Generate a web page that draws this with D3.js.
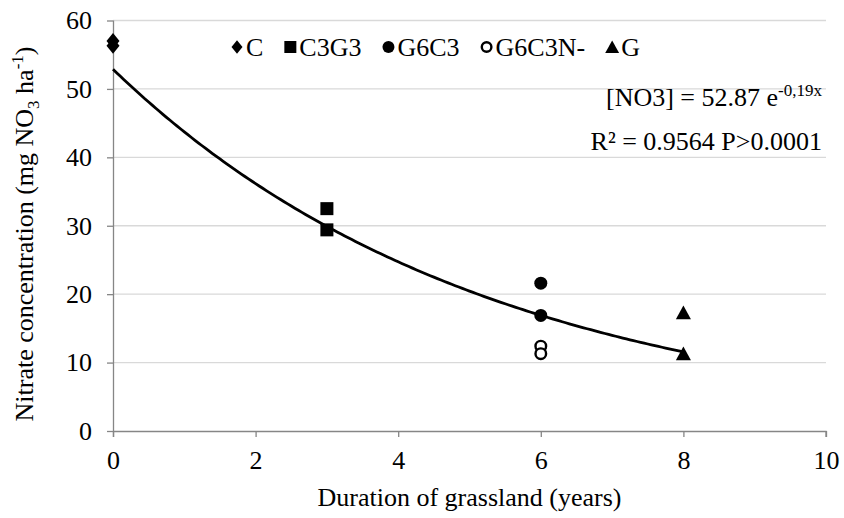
<!DOCTYPE html>
<html>
<head>
<meta charset="utf-8">
<script src="https://cdn.jsdelivr.net/npm/d3@7"></script>
<style>
  html, body { margin: 0; padding: 0; background: #fff; }
  svg text { font-family: "Liberation Serif", "Times New Roman", serif; fill: #000; }
</style>
</head>
<body>
<svg id="chart" width="844" height="518"></svg>
<script>
// Treatments and their measured nitrate concentrations
const seriesNames = ["C", "C3G3", "G6C3", "G6C3N-", "G"];
const seriesYears = [0, 3, 6, 6, 8];
const seriesValues = [
  [57.0, 56.3],
  [32.5, 29.4],
  [21.6, 16.9],
  [12.4, 11.3],
  [17.3, 11.3]
];
const seriesSymbols = ["diamond", "square", "circle", "open", "triangle"];

// Exponential fit  [NO3] = a * e^(b x)
const fitA = 52.87;
const fitB = -0.19;

const xTicks = [0, 2, 4, 6, 8, 10];
const yTicks = [0, 10, 20, 30, 40, 50, 60];

const svg = d3.select("#chart");
const margin = { left: 113, right: 18, top: 20.5, bottom: 87 };
const W = 844, H = 518;
const FS = 26;      // base font size
const FSS = 17;     // sub/superscript size

const x = d3.scaleLinear().domain([0, 10]).range([margin.left, W - margin.right]);
const y = d3.scaleLinear().domain([0, 60]).range([H - margin.bottom, margin.top]);

// horizontal gridlines
svg.append("g")
  .selectAll("line")
  .data(yTicks.filter(d => d > 0))
  .join("line")
  .attr("x1", x(0)).attr("x2", x(10))
  .attr("y1", d => y(d)).attr("y2", d => y(d))
  .attr("stroke", "#d9d9d9").attr("stroke-width", 1.3);

const axisColor = "#868686";

// x axis
const xAxis = svg.append("g")
  .attr("transform", `translate(0,${y(0)})`)
  .call(d3.axisBottom(x).tickValues(xTicks).tickSize(6).tickPadding(14).tickFormat(d3.format("d")));
xAxis.select(".domain").attr("stroke", axisColor).attr("stroke-width", 1.3).attr("d", `M${x(0)},0.5H${x(10)}V6`);
xAxis.selectAll(".tick line").attr("stroke", axisColor).attr("stroke-width", 1.3);
xAxis.selectAll(".tick text").attr("font-size", FS).attr("font-family", "Liberation Serif");

// y axis
const yAxis = svg.append("g")
  .attr("transform", `translate(${x(0)},0)`)
  .call(d3.axisLeft(y).tickValues(yTicks).tickSize(6).tickPadding(15).tickFormat(d3.format("d")));
yAxis.select(".domain").attr("stroke", axisColor).attr("stroke-width", 1.3).attr("d", `M0.5,${y(60)}V${y(0) + 6}`);
yAxis.selectAll(".tick line").attr("stroke", axisColor).attr("stroke-width", 1.3);
yAxis.selectAll(".tick text").attr("font-size", FS).attr("font-family", "Liberation Serif");

// fitted curve
const curveX = d3.range(0, 8.0001, 0.05);
svg.append("path")
  .datum(curveX)
  .attr("fill", "none")
  .attr("stroke", "#000")
  .attr("stroke-width", 2.8)
  .attr("d", d3.line().x(d => x(d)).y(d => y(fitA * Math.exp(fitB * d))));

// marker drawing
function drawSymbol(g, kind, cx, cy, s) {
  if (kind === "diamond") {
    g.append("path").attr("d", `M${cx},${cy - s * 0.62}L${cx + s * 0.5},${cy}L${cx},${cy + s * 0.62}L${cx - s * 0.5},${cy}Z`).attr("fill", "#000");
  } else if (kind === "square") {
    g.append("rect").attr("x", cx - s / 2).attr("y", cy - s / 2).attr("width", s).attr("height", s).attr("fill", "#000");
  } else if (kind === "circle") {
    g.append("circle").attr("cx", cx).attr("cy", cy).attr("r", s / 2).attr("fill", "#000");
  } else if (kind === "open") {
    g.append("circle").attr("cx", cx).attr("cy", cy).attr("r", s / 2 - 1.2).attr("fill", "#fff").attr("stroke", "#000").attr("stroke-width", 2.4);
  } else if (kind === "triangle") {
    g.append("path").attr("d", `M${cx},${cy - s * 0.55}L${cx + s * 0.58},${cy + s * 0.5}L${cx - s * 0.58},${cy + s * 0.5}Z`).attr("fill", "#000");
  }
}

// data points
const pts = svg.append("g");
seriesNames.forEach((name, i) => {
  seriesValues[i].forEach(v => {
    drawSymbol(pts, seriesSymbols[i], x(seriesYears[i]), y(v), 13);
  });
});

// legend, laid out left to right from measured label widths
const legend = svg.append("g");
let lx = 237;
const ly = 47;
seriesNames.forEach((name, i) => {
  drawSymbol(legend, seriesSymbols[i], lx, ly, i === 0 ? 11 : 12);
  const t = legend.append("text")
    .attr("x", lx + 9).attr("y", ly + 9)
    .attr("font-size", FS)
    .text(name);
  lx += 9 + t.node().getComputedTextLength() + 27;
});

// fit equation
const eq = svg.append("text").attr("x", 822).attr("y", 105.5).attr("text-anchor", "end").attr("font-size", FS);
eq.append("tspan").text(`[NO3] = ${fitA} e`);
eq.append("tspan").attr("dy", -10).attr("font-size", FSS).text("-0,19x");
svg.append("text").attr("x", 822).attr("y", 149.5).attr("text-anchor", "end").attr("font-size", FS)
  .text("R² = 0.9564 P>0.0001");

// axis titles
svg.append("text")
  .attr("x", (x(0) + x(10)) / 2).attr("y", 506)
  .attr("text-anchor", "middle").attr("font-size", FS)
  .text("Duration of grassland (years)");

const yt = svg.append("text")
  .attr("transform", `translate(33,234) rotate(-90)`)
  .attr("text-anchor", "middle").attr("font-size", FS);
yt.append("tspan").text("Nitrate concentration (mg NO");
yt.append("tspan").attr("font-size", FSS).attr("dy", 6).text("3");
yt.append("tspan").attr("dy", -6).text(" ha");
yt.append("tspan").attr("font-size", FSS).attr("dy", -10).text("-1");
yt.append("tspan").attr("dy", 10).text(")");
</script>
</body>
</html>
